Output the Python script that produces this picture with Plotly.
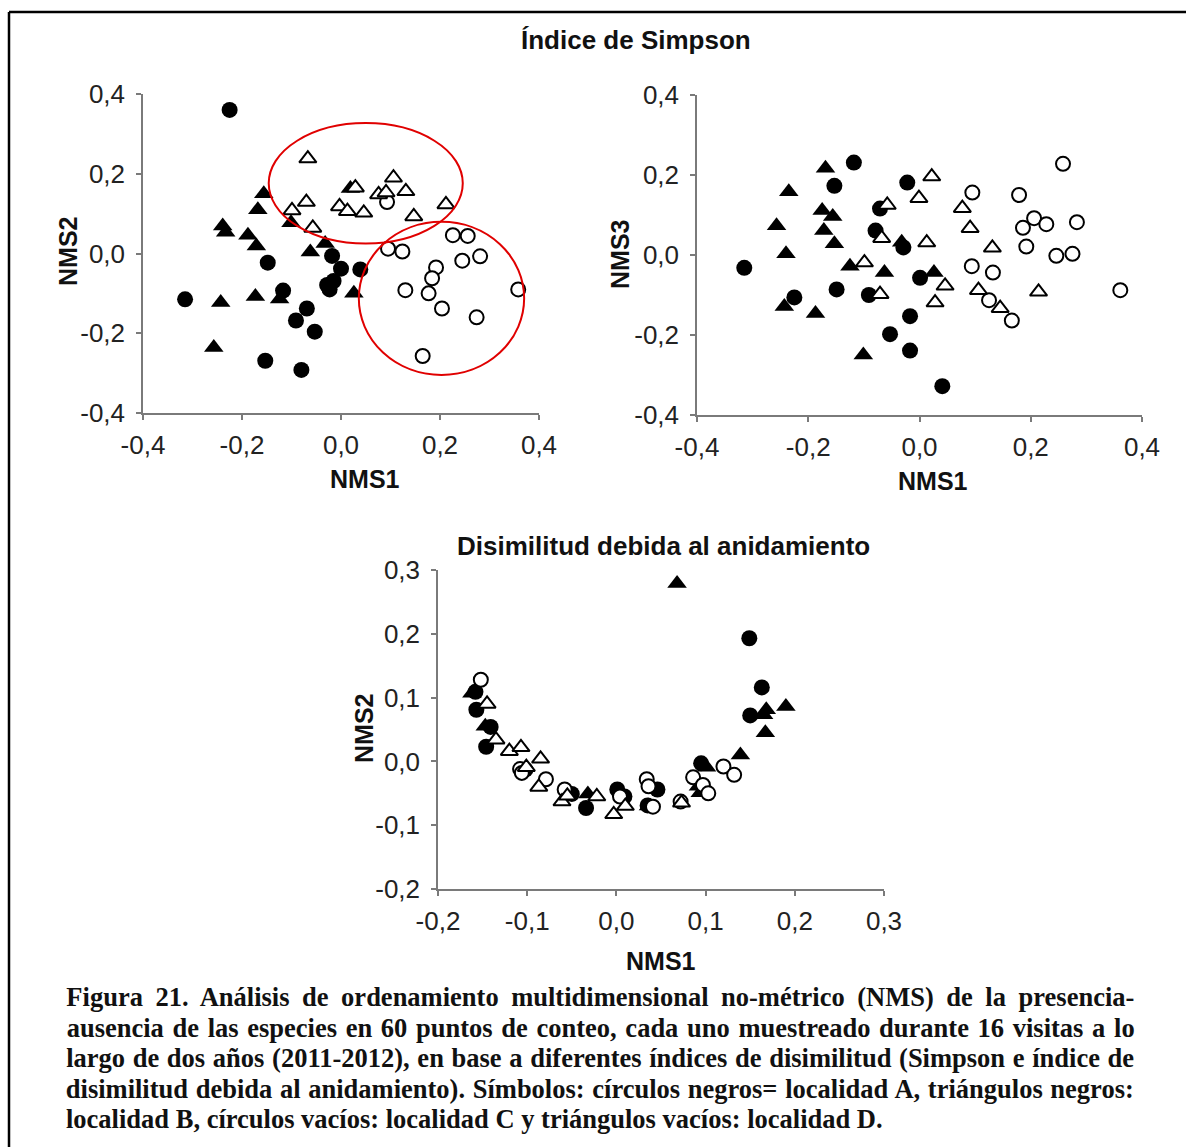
import plotly.graph_objects as go

W, H = 1186, 1147

# ---------------- Data: Índice de Simpson, NMS1 vs NMS2 ----------------
p1_A_x = [-0.225, -0.148, -0.315, -0.117, -0.018, 0.000, 0.039, -0.028, -0.015, -0.023, -0.069, -0.091, -0.053, -0.153, -0.080]
p1_A_y = [0.360, -0.023, -0.115, -0.093, -0.006, -0.038, -0.040, -0.079, -0.069, -0.090, -0.138, -0.168, -0.196, -0.269, -0.292]
p1_B_x = [-0.156, -0.168, -0.239, -0.233, -0.188, -0.171, -0.101, -0.062, -0.032, -0.243, -0.173, -0.124, 0.026, -0.257, 0.019]
p1_B_y = [0.150, 0.110, 0.069, 0.053, 0.046, 0.019, 0.077, 0.004, 0.025, -0.123, -0.108, -0.114, -0.100, -0.236, 0.163]
p1_C_x = [0.093, 0.095, 0.124, 0.226, 0.256, 0.281, 0.245, 0.192, 0.184, 0.130, 0.177, 0.358, 0.204, 0.274, 0.165]
p1_C_y = [0.129, 0.012, 0.005, 0.046, 0.044, -0.007, -0.018, -0.035, -0.062, -0.092, -0.100, -0.090, -0.138, -0.160, -0.257]
p1_D_x = [-0.067, -0.070, -0.099, -0.057, -0.003, 0.013, 0.046, 0.029, 0.076, 0.091, 0.106, 0.131, 0.147, 0.212]
p1_D_y = [0.238, 0.129, 0.108, 0.064, 0.118, 0.106, 0.102, 0.165, 0.148, 0.153, 0.190, 0.156, 0.093, 0.123]

# red ellipses (centre x, centre y, radius x, radius y)
ell_cx = [0.050, 0.203]
ell_cy = [0.176, -0.1125]
ell_rx = [0.196, 0.167]
ell_ry = [0.151, 0.192]

# ---------------- Data: Índice de Simpson, NMS1 vs NMS3 ----------------
p2_A_x = [-0.315, -0.118, -0.153, -0.022, -0.071, -0.079, -0.029, 0.001, -0.225, -0.149, -0.091, -0.017, -0.053, -0.017, 0.041]
p2_A_y = [-0.032, 0.231, 0.173, 0.181, 0.116, 0.061, 0.019, -0.057, -0.106, -0.086, -0.100, -0.153, -0.198, -0.239, -0.328]
p2_B_x = [-0.169, -0.235, -0.175, -0.156, -0.257, -0.172, -0.153, -0.240, -0.125, -0.063, -0.032, 0.026, -0.243, -0.187, -0.101]
p2_B_y = [0.217, 0.158, 0.111, 0.096, 0.073, 0.061, 0.028, 0.003, -0.028, -0.044, 0.032, -0.044, -0.129, -0.146, -0.250]
p2_C_x = [0.095, 0.179, 0.258, 0.206, 0.186, 0.228, 0.283, 0.192, 0.246, 0.275, 0.094, 0.132, 0.125, 0.166, 0.361]
p2_C_y = [0.156, 0.150, 0.228, 0.092, 0.068, 0.077, 0.082, 0.021, -0.002, 0.003, -0.028, -0.044, -0.113, -0.164, -0.088]
p2_D_x = [0.022, -0.001, -0.058, 0.077, -0.068, 0.091, 0.013, -0.099, 0.131, 0.046, 0.106, -0.071, 0.028, 0.145, 0.214]
p2_D_y = [0.196, 0.142, 0.125, 0.117, 0.042, 0.067, 0.031, -0.019, 0.018, -0.077, -0.088, -0.098, -0.119, -0.133, -0.092]

# ---------------- Data: Disimilitud debida al anidamiento ----------------
p3_A_x = [0.149, 0.163, 0.150, -0.158, -0.157, -0.141, -0.146, -0.102, -0.050, -0.034, 0.001, 0.009, 0.046, 0.095, 0.035]
p3_A_y = [0.193, 0.116, 0.072, 0.109, 0.081, 0.054, 0.023, -0.013, -0.051, -0.073, -0.044, -0.055, -0.044, -0.003, -0.069]
p3_B_x = [0.068, -0.162, -0.147, 0.168, 0.190, 0.167, 0.139, 0.101, 0.092, 0.094, -0.032, 0.036, 0.165]
p3_B_y = [0.279, 0.107, 0.055, 0.081, 0.086, 0.045, 0.010, -0.009, -0.039, -0.049, -0.051, -0.070, 0.073]
p3_C_x = [-0.152, -0.108, -0.106, -0.079, -0.058, 0.004, 0.034, 0.036, 0.041, 0.072, 0.086, 0.097, 0.103, 0.120, 0.132]
p3_C_y = [0.128, -0.012, -0.018, -0.028, -0.044, -0.055, -0.028, -0.039, -0.071, -0.063, -0.025, -0.037, -0.050, -0.008, -0.021]
p3_D_x = [-0.145, -0.135, -0.120, -0.107, -0.101, -0.085, -0.087, -0.061, -0.055, -0.022, -0.003, 0.010, 0.073]
p3_D_y = [0.090, 0.034, 0.016, 0.022, -0.009, 0.004, -0.040, -0.063, -0.054, -0.055, -0.083, -0.070, -0.065]

# ---------------- Ticks and texts ----------------
ticks_s = [-0.4, -0.2, 0.0, 0.2, 0.4]
ticklabels_s = ["-0,4", "-0,2", "0,0", "0,2", "0,4"]
ticks_n = [-0.2, -0.1, 0.0, 0.1, 0.2, 0.3]
ticklabels_n = ["-0,2", "-0,1", "0,0", "0,1", "0,2", "0,3"]

title_top = "Índice de Simpson"
title_bottom = "Disimilitud debida al anidamiento"

caption_lines = [
    "Figura 21. Análisis de ordenamiento multidimensional no-métrico (NMS) de la presencia-",
    "ausencia de las especies en 60 puntos de conteo, cada uno muestreado durante 16 visitas a lo",
    "largo de dos años (2011-2012), en base a diferentes índices de disimilitud (Simpson e índice de",
    "disimilitud debida al anidamiento). Símbolos: círculos negros= localidad A, triángulos negros:",
    "localidad B, círculos vacíos: localidad C y triángulos vacíos: localidad D.",
]

# ---------------- Helpers ----------------
def fx(px):
    return px / W

def fy(py):
    return 1 - py / H

SANS = "Liberation Sans, Arial, sans-serif"
SERIF = "Liberation Serif, Times New Roman, serif"
AXC = "#7a7a7a"

fig = go.Figure()

def add_group(x, y, xa, ya, kind):
    if kind == "A":
        m = dict(symbol="circle", size=16, color="black", line=dict(width=0))
    elif kind == "B":
        m = dict(symbol="triangle-up", size=17, color="black", line=dict(width=0))
    elif kind == "C":
        m = dict(symbol="circle", size=14, color="white", line=dict(width=2, color="black"))
    else:
        m = dict(symbol="triangle-up", size=15, color="white", line=dict(width=2, color="black"))
    fig.add_trace(go.Scatter(x=x, y=y, xaxis=xa, yaxis=ya, mode="markers",
                             marker=m, showlegend=False, hoverinfo="skip"))

for xa, ya, groups in [
    ("x", "y", [(p1_A_x, p1_A_y, "A"), (p1_B_x, p1_B_y, "B"), (p1_C_x, p1_C_y, "C"), (p1_D_x, p1_D_y, "D")]),
    ("x2", "y2", [(p2_A_x, p2_A_y, "A"), (p2_B_x, p2_B_y, "B"), (p2_C_x, p2_C_y, "C"), (p2_D_x, p2_D_y, "D")]),
    ("x3", "y3", [(p3_A_x, p3_A_y, "A"), (p3_B_x, p3_B_y, "B"), (p3_C_x, p3_C_y, "C"), (p3_D_x, p3_D_y, "D")]),
]:
    for gx, gy, k in groups:
        add_group(gx, gy, xa, ya, k)

def axis(domain, rng, tv, tt, anchor):
    return dict(domain=domain, range=rng, anchor=anchor, showline=True, linecolor=AXC, linewidth=1.5,
                ticks="outside", ticklen=5, tickwidth=1.5, tickcolor=AXC, showgrid=False, zeroline=False,
                tickvals=tv, ticktext=tt, tickfont=dict(family=SANS, size=26, color="#222"),
                fixedrange=True, automargin=False)

xa1 = axis([fx(143), fx(539)], [-0.4, 0.4], ticks_s, ticklabels_s, "y")
ya1 = axis([fy(413), fy(94)], [-0.4, 0.4], ticks_s, ticklabels_s, "x")
xa2 = axis([fx(697), fx(1142)], [-0.4, 0.4], ticks_s, ticklabels_s, "y2")
ya2 = axis([fy(415), fy(95)], [-0.4, 0.4], ticks_s, ticklabels_s, "x2")
xa3 = axis([fx(438), fx(884)], [-0.2, 0.3], ticks_n, ticklabels_n, "y3")
ya3 = axis([fy(889), fy(570)], [-0.2, 0.3], ticks_n, ticklabels_n, "x3")
for a in (xa1, xa2, xa3):
    a["ticklabelstandoff"] = 3
for a in (ya1, ya2, ya3):
    a["ticklabelstandoff"] = 6

shapes = []
for cx, cy, rx, ry in zip(ell_cx, ell_cy, ell_rx, ell_ry):
    shapes.append(dict(type="circle", xref="x", yref="y", x0=cx - rx, x1=cx + rx, y0=cy - ry, y1=cy + ry,
                       line=dict(color="#e00000", width=2)))
# outer frame of the figure (top and left edges visible)
shapes.append(dict(type="line", xref="paper", yref="paper", x0=fx(9), y0=fy(12), x1=1, y1=fy(12),
                   line=dict(color="black", width=2.5)))
shapes.append(dict(type="line", xref="paper", yref="paper", x0=fx(9), y0=fy(12), x1=fx(9), y1=0,
                   line=dict(color="black", width=2.5)))

ann = []
def text(px, py, s, size, bold=True, family=SANS, angle=0, xanchor="center"):
    ann.append(dict(x=fx(px), y=fy(py), xref="paper", yref="paper", text=("<b>%s</b>" % s) if bold else s,
                    showarrow=False, xanchor=xanchor, yanchor="middle", textangle=angle, borderpad=0,
                    borderwidth=0, font=dict(family=family, size=size, color="#111")))

text(636, 40, title_top, 26)
text(663, 546, title_bottom, 26)
text(365, 479, "NMS1", 25)
text(68, 252, "NMS2", 25, angle=-90)
text(933, 481, "NMS1", 25)
text(620, 255, "NMS3", 25, angle=-90)
text(661, 961, "NMS1", 25)
text(364, 729, "NMS2", 25, angle=-90)

# caption: one annotation per line; justified lines are centred and then
# stretched to the full width with word-spacing measured in the browser
CAP_SIZE = 26.5
CAP_LEFT, CAP_RIGHT = 66, 1134
CAP_Y0, CAP_DY = 997, 30.5
justify_idx = []
for i, line in enumerate(caption_lines):
    py = CAP_Y0 + i * CAP_DY
    if i < len(caption_lines) - 1:
        justify_idx.append(len(ann))
        text((CAP_LEFT + CAP_RIGHT) / 2, py, line, CAP_SIZE, family=SERIF)
    else:
        text(CAP_LEFT, py, line, CAP_SIZE, family=SERIF, xanchor="left")

fig.update_layout(
    width=W, height=H, autosize=False,
    margin=dict(l=0, r=0, t=0, b=0, pad=0, autoexpand=False),
    paper_bgcolor="white", plot_bgcolor="white",
    showlegend=False,
    xaxis=xa1, yaxis=ya1, xaxis2=xa2, yaxis2=ya2, xaxis3=xa3, yaxis3=ya3,
    shapes=shapes, annotations=ann,
)

justify_js = """
var gd = document.getElementById('{plot_id}');
var idx = %s;
var target = %f;
idx.forEach(function(k) {
  var g = gd.querySelector('g.annotation[data-index="' + k + '"]');
  if (!g) return;
  var t = g.querySelector('text.annotation-text');
  if (!t) return;
  var len = t.getComputedTextLength();
  var n = (t.textContent.match(/ /g) || []).length;
  if (n > 0 && target > len) { t.style.wordSpacing = ((target - len) / n) + 'px'; }
});
""" % (str(justify_idx), CAP_RIGHT - CAP_LEFT)

fig.write_html("out.html", config={"displayModeBar": False}, post_script=justify_js)
